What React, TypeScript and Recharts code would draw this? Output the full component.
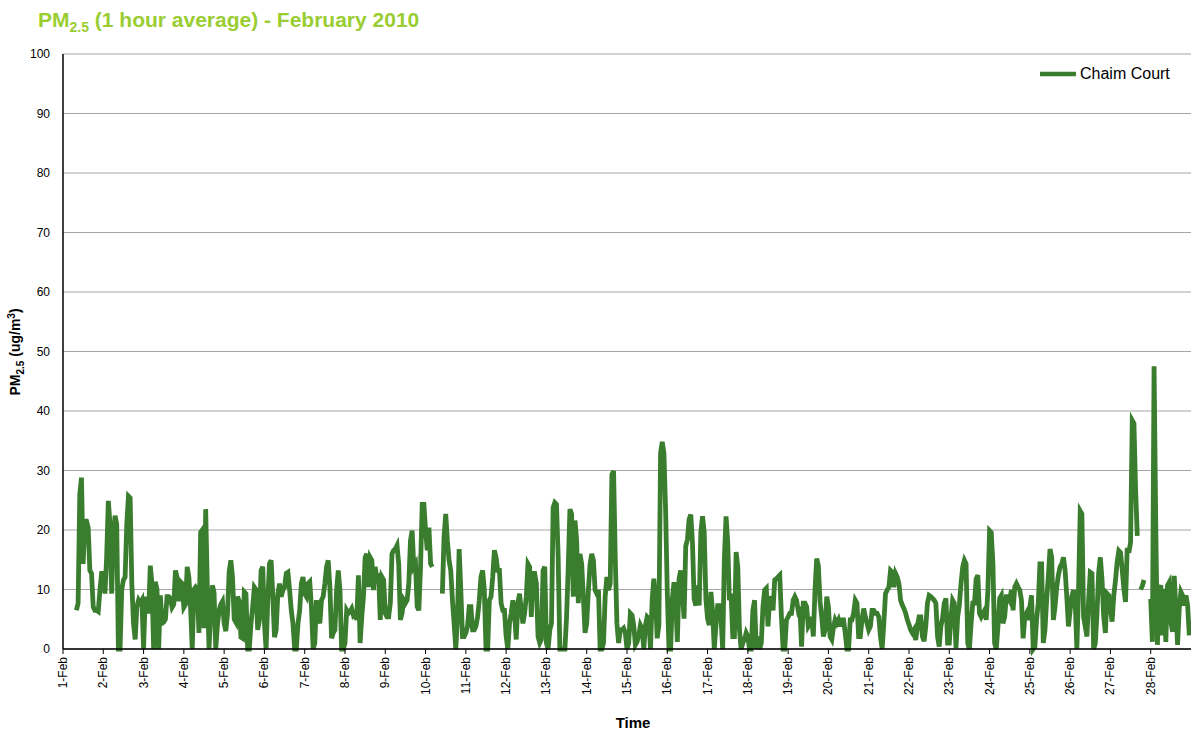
import React from 'react';
import { LineChart, Line, XAxis, YAxis, CartesianGrid } from 'recharts';

type V = number | null;
const _ = null;

// Hourly PM2.5 values (ug/m3), one array per day, 24 hourly readings each
const feb01: V[] = [_, _, _, _, _, _, _, _, 6.5, 7.7, 26, 28.8, 14.3, 21.5, 21.5, 20.4, 13.2, 12.7, 7.1, 6.5, 6.5, 6.3, 9.9, 12.7];
const feb02: V[] = [12.7, 9.3, 15.4, 24.9, 21, 9.3, 18.2, 22.4, 21, 0, 0, 10, 11.6, 12.1, 21, 25.7, 25.4, 11, 4.3, 1.6, 7.1, 8.2, 7.7, 8.2];
const feb03: V[] = [0, 8.8, 7.1, 6, 14, 11, 0, 11.3, 10, 0, 9, 4.3, 4.5, 5, 8.8, 8.8, 8.5, 7, 7.5, 13.2, 12, 8, 11.3, 11];
const feb04: V[] = [7, 7.5, 13.8, 12, 7, 0, 10, 10.4, 10, 2.7, 19.6, 20, 3.5, 23.5, 10, 0, 6, 10.7, 9.5, 0, 4, 6.5, 7.5, 8];
const feb05: V[] = [4.3, 3, 6, 13, 14.9, 12, 5, 4.5, 8.8, 8, 2, 1.8, 9.6, 9.3, 0, 0, 4.3, 7.1, 10.4, 10, 3.2, 4.9, 13.2, 13.8];
const feb06: V[] = [4.3, 0, 8.2, 14.3, 14.9, 8.8, 2, 3.2, 9.3, 11, 8.8, 9.9, 10.4, 12.7, 12.9, 9.9, 6.5, 4.3, 0, 0, 4.3, 6.5, 11, 12.1];
const feb07: V[] = [9.3, 8.8, 11, 11.3, 7.1, 0, 1, 8.2, 5.4, 4.3, 8.2, 8.8, 11, 13.8, 14.9, 10.4, 1.8, 2.7, 3.2, 9.9, 13.2, 9.9, 0, 0];
const feb08: V[] = [1, 6.5, 6, 6.3, 6.8, 5.7, 6, 4.9, 12.4, 1, 5.4, 8.8, 15.4, 16, 10.4, 15.4, 14.9, 9.9, 13.8, 11.6, 12.7, 4.9, 12.1, 11.6];
const feb09: V[] = [6, 5.4, 5.4, 7.7, 16, 16.6, 16.8, 17.4, 14.3, 4.9, 6, 8.2, 7.7, 8.2, 11, 18.2, 19.9, 13.8, 14.3, 7.1, 6.5, 13.8, 24.3, 24.3];
const feb10: V[] = [19.9, 16.6, 20.4, 14.3, 13.8, _, _, _, _, _, 9.3, 18.8, 22.7, 18.2, 14.9, 13.2, 8.2, 4.3, 0, 5.4, 16.8, 9.9, 2.1, 2.1];
const feb11: V[] = [2.7, 3.8, 7.1, 7.1, 3.2, 3.2, 3.8, 5.4, 8.2, 12.1, 13.2, 9.9, 0, 0, 8.2, 8.8, 12.1, 16.6, 15.4, 13.2, 13.2, 7.7, 6.5, 6.5];
const feb12: V[] = [2.1, 0, 4.3, 6, 8.2, 6, 1.6, 7.7, 9.3, 6.5, 4.3, 6, 8.8, 14.3, 13.8, 5.4, 12.7, 12.7, 11, 2.1, 1, 1.6, 13.2, 13.8];
const feb13: V[] = [1, 0, 3.2, 4.3, 23.8, 24.6, 24.3, 15.4, 0, 0, 0, 0, 5.4, 13.8, 23.5, 22.7, 8.8, 21.6, 18.2, 7.7, 16, 14.3, 8.8, 2.7];
const feb14: V[] = [4.3, 9.9, 14.3, 16, 14.9, 9.9, 9.3, 9.9, 0, 0, 1, 8.8, 12.1, 9.9, 11, 29.3, 29.9, 15.4, 4.3, 1, 3.2, 3.2, 3.5, 2.7];
const feb15: V[] = [0, 1, 6, 5.7, 4, 0.7, 1.2, 2.3, 4, 3.4, 0, 4, 5.4, 5.1, 0, 8.4, 11.8, 8.4, 1.8, 4, 32.9, 34.8, 32.9, 23.4];
const feb16: V[] = [9.6, 0, 0, 8.4, 11.2, 8.4, 1.2, 11.8, 13.2, 9.6, 5.1, 17.3, 18.4, 21.8, 22.6, 17.9, 8.4, 7.3, 10.7, 7.3, 19.6, 22.3, 19.6, 8.4];
const feb17: V[] = [5.1, 4, 9.6, 6.2, 0, 4, 7.3, 7.3, 5.1, 0, 15.1, 22.3, 18, 8.2, 9.3, 2.1, 2.1, 16.3, 13.8, 3.2, 0, 1, 1.6, 2.7];
const feb18: V[] = [2.1, 0, 0, 6.5, 8.2, 0, 2.1, 0, 1, 7.1, 9.9, 10.2, 3.8, 8.8, 8.2, 6.5, 11.6, 11.8, 12.1, 12.4, 5.4, 0, 0, 4.9];
const feb19: V[] = [5.4, 6, 6, 8.2, 8.8, 8.2, 6.5, 7.1, 0.4, 7.7, 7.7, 7.1, 3.8, 4.3, 5.4, 2.1, 9.9, 15.2, 14, 8, 5.4, 2.1, 3.2, 8.8];
const feb20: V[] = [7.1, 2.1, 1.6, 3.7, 4.9, 4.3, 4.9, 3.8, 4.9, 4.9, 2.7, 0, 0, 4.9, 4.9, 6, 8.2, 7.7, 2.1, 2.1, 4.9, 6.8, 5.4, 4.3];
const feb21: V[] = [3.2, 3.8, 6.5, 6.5, 6, 6, 5.4, 2.1, 0, 4.3, 9.3, 9.9, 10.4, 13.2, 12.9, 10.4, 12.7, 12.1, 11, 8.2, 7.4, 6.8, 6, 4.9];
const feb22: V[] = [4.1, 3.2, 2.7, 3.2, 1.5, 3.8, 5.4, 5.4, 2.1, 1.3, 3.8, 7.7, 9, 8.8, 8.5, 8.2, 7.7, 2.1, 0.4, 3.8, 5.2, 7.7, 8.5, 1];
const feb23: V[] = [1, 5.2, 8.2, 7.7, 0.2, 5.4, 7.4, 11, 13.8, 14.9, 14.3, 1, 0, 4.3, 7.7, 7.7, 11.8, 12.4, 6, 5.4, 6, 6.5, 4.9, 9.9];
const feb24: V[] = [19.9, 19.6, 14.3, 1, 0, 3.8, 8.5, 9, 4.3, 5.4, 8.8, 8.8, 8.2, 9.9, 6.5, 10.4, 11, 10.4, 9.9, 8.2, 1.8, 5.4, 6, 4.9];
const feb25: V[] = [7.1, 9, 0, 0.4, 4.9, 7.7, 14.3, 14.3, 1, 3.2, 8.2, 12.1, 16.8, 15.4, 4.9, 7.1, 10.4, 12.4, 13.8, 14.3, 15.4, 13.2, 8.8, 3.8];
const feb26: V[] = [6.5, 8.8, 9.9, 8.2, 0, 9.9, 23.2, 22.7, 5.4, 3.8, 2.1, 8.2, 12.9, 12.7, 0, 1, 6, 12.9, 15.4, 11.6, 5.4, 2.7, 9.3, 9];
const feb27: V[] = [6.8, 4.6, 9, 11.5, 14.6, 16.5, 16.2, 13.4, 10.1, 7.9, 17, 16.2, 17.9, 38.4, 37.9, 26.8, 19, _, 10, 10.6, 11.6, _, _, _];
const feb28: V[] = [8.4, 1.2, 47.5, 21, 0.7, 10.1, 10.7, 2.3, 10.1, 1.2, 10.7, 11.2, 4.6, 2.9, 12.3, 6.8, 0.7, 6.8, 9.6, 9, 7.3, 9, 7.3, 2.3];

const days: V[][] = [
  feb01, feb02, feb03, feb04, feb05, feb06, feb07, feb08, feb09, feb10,
  feb11, feb12, feb13, feb14, feb15, feb16, feb17, feb18, feb19, feb20,
  feb21, feb22, feb23, feb24, feb25, feb26, feb27, feb28,
];

const dayLabels: string[] = days.map((_d, i) => `${i + 1}-Feb`);
const xTicks: number[] = days.map((_d, i) => i * 24);
const yTicks: number[] = [0, 10, 20, 30, 40, 50, 60, 70, 80, 90, 100];
const seriesName = 'Chaim Court';

const data = days.flatMap((d, di) => d.map((v, hi) => ({ h: di * 24 + hi, v })));

const FONT = '"Liberation Sans", Arial, sans-serif';
const GREEN = '#3b7d2e';

const DateTick = (props: any) => {
  const { x, y, payload } = props;
  const idx = Math.round(payload.value / 24);
  return (
    <g transform={`translate(${x},${y})`}>
      <text x={0} y={0} dy={4} textAnchor="end" transform="rotate(-90)" fontSize={12} fill="#000" fontFamily={FONT}>
        {dayLabels[idx]}
      </text>
    </g>
  );
};

export default function App() {
  return (
    <div style={{ position: 'absolute', left: 0, top: 0, width: 1191, height: 733, background: '#fff' }}>
      <div
        style={{
          position: 'absolute', left: 38, top: 7, fontFamily: FONT, fontWeight: 'bold',
          fontSize: 21, color: '#9acd32', whiteSpace: 'nowrap', lineHeight: '26px',
        }}
      >
        PM<sub style={{ fontSize: 14 }}>2.5</sub> (1 hour average) - February 2010
      </div>
      <div
        style={{
          position: 'absolute', left: 16, top: 352, transform: 'translate(-50%, -50%) rotate(-90deg)',
          fontFamily: FONT, fontWeight: 'bold', fontSize: 14, color: '#000', whiteSpace: 'nowrap',
        }}
      >
        PM<sub style={{ fontSize: 10 }}>2.5</sub> (ug/m<sup style={{ fontSize: 10 }}>3</sup>)
      </div>
      <div
        style={{
          position: 'absolute', left: 633, top: 722, transform: 'translate(-50%, -50%)',
          fontFamily: FONT, fontWeight: 'bold', fontSize: 15, color: '#000',
        }}
      >
        Time
      </div>
      <div
        style={{
          position: 'absolute', left: 1038, top: 65, display: 'flex', alignItems: 'center',
          fontFamily: FONT, fontSize: 16, color: '#000', whiteSpace: 'nowrap',
        }}
      >
        <svg width={40} height={10} style={{ marginRight: 2 }}>
          <line x1={2} y1={5} x2={38} y2={5} stroke={GREEN} strokeWidth={4.5} />
        </svg>
        <span>{seriesName}</span>
      </div>
      <div style={{ position: 'absolute', left: 0, top: 0 }}>
        <LineChart width={1191} height={733} data={data} margin={{ top: 54, right: 0, bottom: 0, left: 0 }}>
          <CartesianGrid vertical={false} stroke="#a6a6a6" strokeWidth={1} />
          <XAxis
            dataKey="h"
            type="number"
            domain={[0, 672]}
            ticks={xTicks}
            interval={0}
            height={84}
            tick={<DateTick />}
            tickSize={5}
            tickMargin={3}
            axisLine={{ stroke: '#000', strokeWidth: 1.5 }}
            tickLine={{ stroke: '#000' }}
          />
          <YAxis
            type="number"
            domain={[0, 100]}
            ticks={yTicks}
            interval={0}
            width={63}
            tickLine={false}
            tickMargin={7}
            axisLine={{ stroke: '#000', strokeWidth: 1.5 }}
            tick={{ fontSize: 12, fill: '#000', fontFamily: FONT }}
          />
          <Line
            type="linear"
            dataKey="v"
            name={seriesName}
            stroke={GREEN}
            strokeWidth={4.8}
            dot={false}
            activeDot={false}
            connectNulls={false}
            isAnimationActive={false}
          />
        </LineChart>
      </div>
    </div>
  );
}
